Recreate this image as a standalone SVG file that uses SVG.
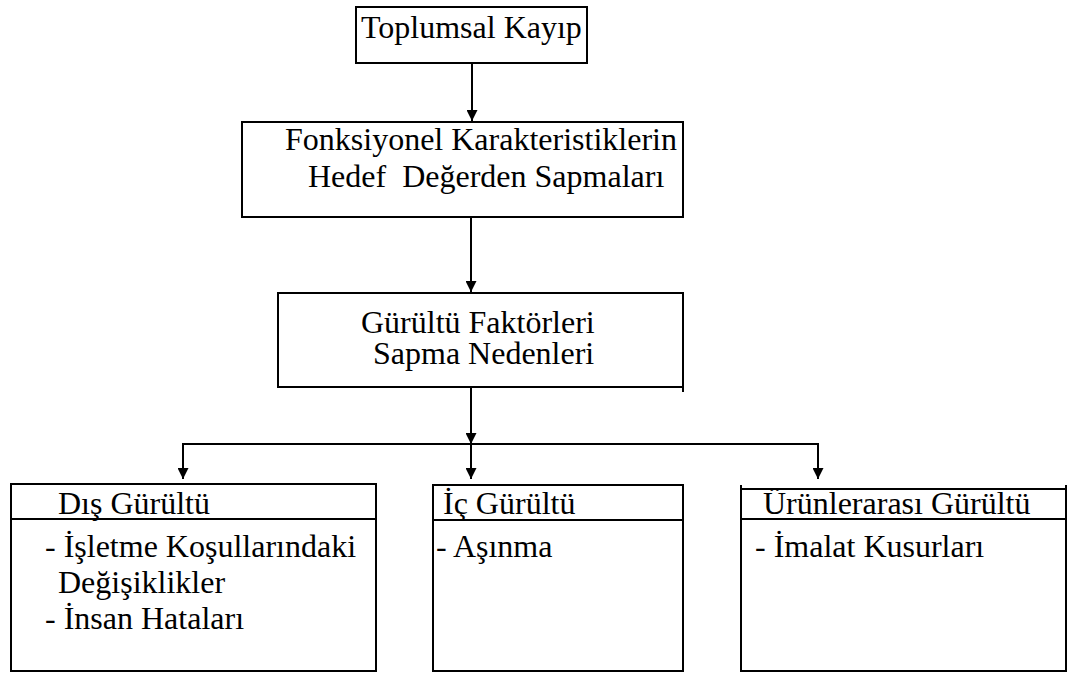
<svg xmlns="http://www.w3.org/2000/svg" width="1069" height="673" viewBox="0 0 1069 673">
<style>
.box{fill:#fff;stroke:#000;stroke-width:2}
.ln{fill:none;stroke:#000;stroke-width:2}
.t{font-family:"Liberation Serif","Times New Roman",serif;font-size:32px;fill:#000}
</style>
<defs>
<marker id="ah" viewBox="0 0 10 10" refX="10" refY="5" markerWidth="11" markerHeight="11" markerUnits="userSpaceOnUse" orient="auto">
<path d="M0,0 L10,5 L0,10 z" fill="#000"/>
</marker>
</defs>
<rect width="1069" height="673" fill="#fff"/>
<g id="connectors">
<line class="ln" x1="472" y1="63" x2="472" y2="121" marker-end="url(#ah)"/>
<line class="ln" x1="471" y1="217" x2="471" y2="292" marker-end="url(#ah)"/>
<line class="ln" x1="471" y1="387" x2="471" y2="444" marker-end="url(#ah)"/>
<polyline class="ln" points="183,478 183,444 818,444 818,478"/>
<line class="ln" x1="183" y1="444" x2="183" y2="479" marker-end="url(#ah)"/>
<line class="ln" x1="471" y1="444" x2="471" y2="479" marker-end="url(#ah)"/>
<line class="ln" x1="818" y1="444" x2="818" y2="479" marker-end="url(#ah)"/>
</g>
<g id="n1">
<rect class="box" x="356" y="7" width="231" height="56"/>
<text class="t" x="361" y="38">Toplumsal Kayıp</text>
</g>
<g id="n2">
<rect class="box" x="242" y="122" width="441" height="95"/>
<text class="t" x="285" y="150">Fonksiyonel Karakteristiklerin</text>
<text class="t" x="308" y="187" xml:space="preserve">Hedef  Değerden Sapmaları</text>
</g>
<g id="n3">
<rect class="box" x="278" y="293" width="405" height="94"/>
<line class="ln" x1="683" y1="387" x2="683" y2="392"/>
<text class="t" x="361" y="333">Gürültü Faktörleri</text>
<text class="t" x="373" y="364">Sapma Nedenleri</text>
</g>
<g id="n4">
<rect class="box" x="11" y="484" width="365" height="187"/>
<line class="ln" x1="11" y1="519" x2="376" y2="519"/>
<text class="t" x="58" y="514">Dış Gürültü</text>
<text class="t" x="45" y="557">- İşletme Koşullarındaki</text>
<text class="t" x="58" y="593">Değişiklikler</text>
<text class="t" x="45" y="629">- İnsan Hataları</text>
</g>
<g id="n5">
<rect class="box" x="433" y="485" width="250" height="186"/>
<line class="ln" x1="433" y1="520" x2="683" y2="520"/>
<text class="t" x="443" y="514">İç Gürültü</text>
<text class="t" x="436" y="557">- Aşınma</text>
</g>
<g id="n6">
<rect class="box" x="741" y="489" width="325" height="182"/>
<line class="ln" x1="741" y1="485" x2="741" y2="489"/>
<line class="ln" x1="1066" y1="485" x2="1066" y2="489"/>
<line class="ln" x1="741" y1="519" x2="1066" y2="519"/>
<text class="t" x="763" y="514">Ürünlerarası Gürültü</text>
<text class="t" x="755" y="557">- İmalat Kusurları</text>
</g>
</svg>
